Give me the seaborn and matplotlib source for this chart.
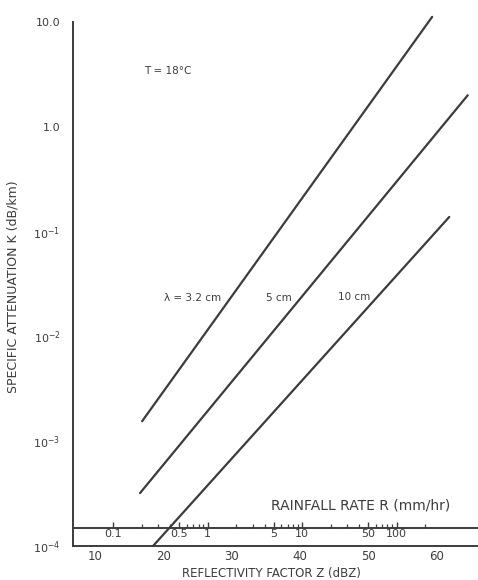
import numpy as np
import pandas as pd
import seaborn as sns
import matplotlib.pyplot as plt
from matplotlib.ticker import FixedLocator, NullFormatter

# Specific attenuation vs reflectivity, T = 18 C
z_32 = [16.9, 59.3]          # dBZ
k_32 = [1.55e-3, 11.2]       # dB/km
z_5 = [16.6, 64.5]
k_5 = [3.2e-4, 2.0]
z_10 = [18.5, 61.8]
k_10 = [1.0e-4, 0.138]

z_ticks = [10, 20, 30, 40, 50, 60]
k_ticks = [1e-4, 1e-3, 1e-2, 1e-1, 1.0, 10.0]
k_labels = ['$10^{-4}$', '$10^{-3}$', '$10^{-2}$', '$10^{-1}$', '1.0', '10.0']

r_major = [0.1, 0.5, 1, 5, 10, 50, 100]
r_minor = [0.2, 0.3, 0.4, 0.6, 0.7, 0.8, 0.9, 2, 3, 4, 6, 7, 8, 9,
           20, 30, 40, 60, 70, 80, 90, 200]
r_labels = ['0.1', '0.5', '1', '5', '10', '50', '100']

# Z-R relation as drawn on the rainfall scale
ZR_A = 26.5
ZR_B = 13.8

ink = '#3c3c3c'

sns.set_style('white')
plt.rcParams['font.family'] = ['DejaVu Sans']

fig = plt.figure(figsize=(4.78, 5.8), dpi=100)
ax = fig.add_axes([73 / 478, 34 / 580, 405 / 478, 524 / 580])

df = pd.concat([
    pd.DataFrame({'Z': z_32, 'K': k_32, 'lam': '3.2'}),
    pd.DataFrame({'Z': z_5, 'K': k_5, 'lam': '5'}),
    pd.DataFrame({'Z': z_10, 'K': k_10, 'lam': '10'}),
])
sns.lineplot(data=df, x='Z', y='K', units='lam', estimator=None,
             color=ink, lw=1.6, ax=ax, legend=False)
for ln in ax.lines:
    ln.set_clip_on(False)

ax.set_yscale('log')
ax.set_xlim(6.8, 66)
ax.set_ylim(1e-4, 10)

for s in ['top', 'right']:
    ax.spines[s].set_visible(False)
for s in ['left', 'bottom']:
    ax.spines[s].set_color(ink)
    ax.spines[s].set_linewidth(1.4)

ax.set_xticks(z_ticks)
ax.set_xticklabels([str(t) for t in z_ticks])
ax.tick_params(axis='x', direction='in', length=3, width=1, color=ink,
               labelcolor=ink, labelsize=8.5, pad=3)
ax.set_yticks(k_ticks)
ax.set_yticklabels(k_labels)
ax.yaxis.set_minor_locator(FixedLocator(
    [m * 10.0 ** e for e in range(-4, 1) for m in range(2, 10)]))
ax.yaxis.set_minor_formatter(NullFormatter())
ax.tick_params(axis='y', which='major', direction='in', length=7, width=1,
               color=ink, labelcolor=ink, labelsize=8, pad=9)
ax.tick_params(axis='y', which='minor', direction='in', length=4, width=0.9,
               color=ink)

# rainfall rate scale drawn just above the Z axis
sec = ax.secondary_xaxis(18 / 524, functions=(
    lambda z: 10 ** ((np.asarray(z) - ZR_A) / ZR_B),
    lambda r: ZR_A + ZR_B * np.log10(np.clip(r, 1e-9, None))))
sec.spines['bottom'].set_color(ink)
sec.spines['bottom'].set_linewidth(1.4)
sec.xaxis.set_major_locator(FixedLocator(r_major))
sec.xaxis.set_minor_locator(FixedLocator(r_minor))
sec.set_xticklabels(r_labels)
sec.xaxis.set_minor_formatter(NullFormatter())
sec.tick_params(axis='x', which='major', direction='in', length=4, width=1,
                color=ink, labelcolor=ink, labelsize=8, pad=1)
sec.tick_params(axis='x', which='minor', direction='in', length=3, width=0.9,
                color=ink)

ax.set_xlabel('REFLECTIVITY FACTOR Z (dBZ)', color=ink, fontsize=8.5)
ax.xaxis.set_label_coords(0.49, -0.040)
ax.set_ylabel('SPECIFIC ATTENUATION K (dB/km)', color=ink, fontsize=9)
ax.yaxis.set_label_coords(-0.131, 0.494)

ax.text(0.709, 0.078, 'RAINFALL RATE R (mm/hr)', transform=ax.transAxes,
        ha='center', va='center', color=ink, fontsize=10)
ax.text(0.235, 0.906, 'T = 18°C', transform=ax.transAxes,
        ha='center', va='center', color=ink, fontsize=7.5)
ax.text(0.296, 0.473, 'λ = 3.2 cm', transform=ax.transAxes,
        ha='center', va='center', color=ink, fontsize=7.5)
ax.text(0.509, 0.473, '5 cm', transform=ax.transAxes,
        ha='center', va='center', color=ink, fontsize=7.5)
ax.text(0.694, 0.475, '10 cm', transform=ax.transAxes,
        ha='center', va='center', color=ink, fontsize=7.5)

fig.savefig('out.png', dpi=100)
